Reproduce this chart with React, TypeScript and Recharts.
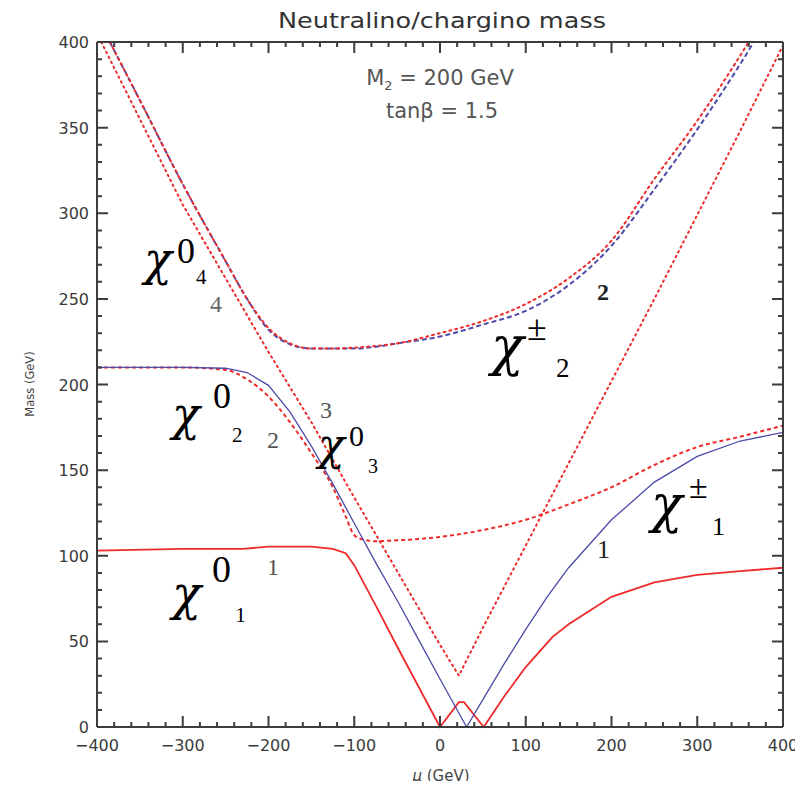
import React from "react";
import { LineChart, Line, XAxis, YAxis } from "recharts";

// mu (GeV) sample points and masses (GeV), one pair per curve
// (curves leaving the frame end where they meet the 400 GeV edge)
const neut1Mu = [-400, -300, -230, -200, -150, -125, -110, -100, -75, -50, -25, 0, 22, 28, 51, 75, 100, 131, 150, 175, 200, 250, 300, 350, 400];
const neut1Mass = [103, 104, 104, 105.3, 105.3, 104, 101.5, 94.5, 71, 47, 23.5, 0, 14.5, 14.5, 0, 18, 35, 52.5, 60, 68, 76, 84.5, 88.8, 91, 93];

const neut2Mu = [-400, -300, -250, -225, -200, -175, -150, -125, -110, -100, -90, -75, -50, 0, 50, 100, 150, 200, 250, 300, 350, 400];
const neut2Mass = [210, 210, 208.5, 203, 193, 178, 160, 140, 123, 112, 109.5, 108.5, 109, 111, 115, 121, 130, 140, 153, 163.5, 169.5, 176];

const neut3Mu = [-395, -350, -300, -250, -200, -150, -100, -50, 0, 22, 50, 100, 150, 200, 250, 300, 350, 400];
const neut3Mass = [400, 355, 305, 262, 219, 178, 134, 91, 48, 30, 58, 106, 154, 202, 250, 299, 348, 398];

const neut4Mu = [-385, -350, -300, -250, -225, -200, -175, -150, -125, -100, -75, -50, 0, 50, 100, 150, 200, 250, 300, 350, 360];
const neut4Mass = [400, 366, 317, 272, 250, 233, 224, 221, 221, 221.5, 222.5, 224, 230, 237, 247, 262, 284, 320, 354, 392, 400];

const char1Mu = [-400, -300, -250, -225, -200, -175, -150, -125, -100, -75, -50, -25, 0, 31, 50, 75, 100, 125, 150, 175, 200, 250, 300, 350, 400];
const char1Mass = [210, 210, 209.5, 207, 199.5, 184, 164, 142, 119, 96, 74, 51, 28, 0, 16, 37, 57, 76, 93, 107, 121, 143, 158, 167, 172];

const char2Mu = [-385, -350, -300, -250, -225, -200, -175, -150, -125, -100, -75, -50, 0, 50, 100, 150, 200, 250, 300, 350, 366];
const char2Mass = [400, 366, 317, 272, 250, 232, 223.5, 221, 221, 221, 222, 224, 228, 235, 243, 258, 281, 314, 349, 387, 400];

const xMajorTicks = [-400, -300, -200, -100, 0, 100, 200, 300, 400];
const yMajorTicks = [0, 50, 100, 150, 200, 250, 300, 350, 400];

const toPoints = (mu: number[], mass: number[]) => mu.map((v, i) => ({ mu: v, m: mass[i] }));

// minor ticks in between the majors (every 20 on x, every 10 on y)
const withMinor = (major: number[], parts: number) => {
  const out: number[] = [];
  for (let i = 0; i < major.length - 1; i++) {
    const step = (major[i + 1] - major[i]) / parts;
    for (let k = 0; k < parts; k++) out.push(major[i] + k * step);
  }
  out.push(major[major.length - 1]);
  return out;
};
const xTicks = withMinor(xMajorTicks, 5);
const yTicks = withMinor(yMajorTicks, 5);

const X_MIN = -400, X_MAX = 400, Y_MIN = 0, Y_MAX = 400;

// chart box and plot margins (page pixels; body margin is 8)
const CHART_W = 795, CHART_H = 773;
const M_TOP = 34, M_RIGHT = 20, Y_AXIS_W = 89, X_AXIS_H = 54;
const PLOT_L = 8 + Y_AXIS_W, PLOT_R = 8 + CHART_W - M_RIGHT;
const PLOT_T = 8 + M_TOP, PLOT_B = 8 + CHART_H - X_AXIS_H;
const px = (mu: number) => PLOT_L + ((mu - X_MIN) / (X_MAX - X_MIN)) * (PLOT_R - PLOT_L);
const py = (m: number) => PLOT_B - ((m - Y_MIN) / (Y_MAX - Y_MIN)) * (PLOT_B - PLOT_T);
const TICK_MAJOR = 11, TICK_MINOR = 5;

const RED = "#ee2a2a";
const BLUE = "#4b4ba8";
const AXIS = "#3c3c3c";
const SANS = "'DejaVu Sans', sans-serif";
const SERIF = "'DejaVu Serif', serif";
const NUM = "'Liberation Serif', serif";

const fmt = (v: number) => (v < 0 ? "\u2212" + Math.abs(v) : String(v));

const BottomLabel = (props: any) => {
  const { x, y, payload } = props;
  if (payload.value % 100 !== 0) return <g />;
  return (
    <text x={x} y={y + 24} textAnchor="middle" fontSize={16} fill="#3a3a3a" fontFamily={SANS}>
      {fmt(payload.value)}
    </text>
  );
};

const LeftLabel = (props: any) => {
  const { x, y, payload } = props;
  if (payload.value % 50 !== 0) return <g />;
  return (
    <text x={x - 8} y={y + 6} textAnchor="end" fontSize={16} fill="#3a3a3a" fontFamily={SANS}>
      {payload.value}
    </text>
  );
};

type Sym = { x: number; y: number; big: number; sup: string; supSize: number; supDx: number; supDy: number; sub: string; subSize: number; subDx: number; subDy: number };

const Particle = ({ x, y, big, sup, supSize, supDx, supDy, sub, subSize, subDx, subDy }: Sym) => (
  <g fill="#000">
    <text x={x} y={y} fontSize={big} fontStyle="italic" fontFamily={SERIF}>χ</text>
    <text x={x + supDx} y={y + supDy} fontSize={supSize} fontFamily={NUM}>{sup}</text>
    <text x={x + subDx} y={y + subDy} fontSize={subSize} fontFamily={NUM}>{sub}</text>
  </g>
);

// frame path with inward ticks on all four sides, one path per side
const framePaths = () => {
  const bottom: string[] = [`M${PLOT_L},${PLOT_B}H${PLOT_R}`];
  const top: string[] = [`M${PLOT_L},${PLOT_T}H${PLOT_R}`];
  const left: string[] = [`M${PLOT_L},${PLOT_T}V${PLOT_B}`];
  const right: string[] = [`M${PLOT_R},${PLOT_T}V${PLOT_B}`];
  xTicks.forEach((v) => {
    const len = v % 100 === 0 ? TICK_MAJOR : TICK_MINOR;
    const x = px(v);
    bottom.push(`M${x},${PLOT_B}V${PLOT_B - len}`);
    top.push(`M${x},${PLOT_T}V${PLOT_T + len}`);
  });
  yTicks.forEach((v) => {
    const len = v % 50 === 0 ? TICK_MAJOR : TICK_MINOR;
    const y = py(v);
    left.push(`M${PLOT_L},${y}H${PLOT_L + len}`);
    right.push(`M${PLOT_R},${y}H${PLOT_R - len}`);
  });
  return [bottom, top, left, right].map((p) => p.join(""));
};

export default function App() {
  return (
    <div style={{ position: "relative", width: CHART_W, height: CHART_H }}>
      <LineChart width={CHART_W} height={CHART_H} margin={{ top: M_TOP, right: M_RIGHT, bottom: 0, left: 0 }}>
        <XAxis
          type="number"
          dataKey="mu"
          domain={[X_MIN, X_MAX]}
          ticks={xTicks}
          interval={0}
          height={X_AXIS_H}
          tickSize={0}
          tickMargin={0}
          tickLine={false}
          tick={<BottomLabel />}
          axisLine={{ stroke: AXIS, strokeWidth: 2 }}
        />
        <YAxis
          type="number"
          domain={[Y_MIN, Y_MAX]}
          ticks={yTicks}
          interval={0}
          width={Y_AXIS_W}
          tickSize={0}
          tickMargin={0}
          tickLine={false}
          tick={<LeftLabel />}
          axisLine={{ stroke: AXIS, strokeWidth: 2 }}
        />
        <Line data={toPoints(neut1Mu, neut1Mass)} dataKey="m" type="linear" stroke={RED} strokeWidth={1.8} dot={false} isAnimationActive={false} />
        <Line data={toPoints(neut2Mu, neut2Mass)} dataKey="m" type="monotone" stroke={RED} strokeWidth={2} strokeDasharray="4 3" dot={false} isAnimationActive={false} />
        <Line data={toPoints(neut3Mu, neut3Mass)} dataKey="m" type="linear" stroke={RED} strokeWidth={2} strokeDasharray="1.5 4" strokeLinecap="round" dot={false} isAnimationActive={false} />
        <Line data={toPoints(char1Mu, char1Mass)} dataKey="m" type="linear" stroke={BLUE} strokeWidth={1.3} dot={false} isAnimationActive={false} />
        <Line data={toPoints(char2Mu, char2Mass)} dataKey="m" type="monotone" stroke={BLUE} strokeWidth={2} strokeDasharray="5 3" dot={false} isAnimationActive={false} />
        <Line data={toPoints(neut4Mu, neut4Mass)} dataKey="m" type="monotone" stroke={RED} strokeWidth={2} strokeDasharray="2 4" strokeLinecap="round" dot={false} isAnimationActive={false} />
      </LineChart>

      <svg
        width={803}
        height={789}
        viewBox="0 0 803 789"
        style={{ position: "absolute", left: -8, top: -8, pointerEvents: "none" }}
      >
        {framePaths().map((d, i) => (
          <path key={i} d={d} fill="none" stroke={AXIS} strokeWidth={2} />
        ))}
        <text x={442} y={28} textAnchor="middle" fontSize={22} fill="#333" fontFamily={SANS} textLength={328} lengthAdjust="spacingAndGlyphs">
          Neutralino/chargino mass
        </text>
        <text x={440} y={85} textAnchor="middle" fontSize={21} fill="#555" fontFamily={SANS}>
          M<tspan fontSize={13} dy={5}>2</tspan><tspan dy={-5}> = 200 GeV</tspan>
        </text>
        <text x={442} y={118} textAnchor="middle" fontSize={21} fill="#555" fontFamily={SANS}>
          tanβ = 1.5
        </text>
        <text x={441} y={781} textAnchor="middle" fontSize={15} fill="#444" fontFamily={SANS}>
          <tspan fontStyle="italic">μ</tspan> (GeV)
        </text>
        <text x={34} y={384} textAnchor="middle" fontSize={11.5} fill="#444" fontFamily={SANS} transform="rotate(-90 34 384)">
          Mass (GeV)
        </text>

        <Particle x={144} y={275} big={46} sup="0" supSize={36} supDx={33} supDy={-12} sub="4" subSize={21} subDx={52} subDy={9} />
        <Particle x={172} y={430} big={46} sup="0" supSize={36} supDx={41} supDy={-22} sub="2" subSize={21} subDx={60} subDy={12} />
        <Particle x={318} y={460} big={44} sup="0" supSize={30} supDx={31} supDy={-14} sub="3" subSize={20} subDx={50} subDy={13} />
        <Particle x={172} y={610} big={48} sup="0" supSize={38} supDx={40} supDy={-28} sub="1" subSize={22} subDx={63} subDy={12} />
        <Particle x={491} y={365} big={54} sup="±" supSize={36} supDx={36} supDy={-25} sub="2" subSize={27} subDx={65} subDy={12} />
        <Particle x={651} y={522} big={52} sup="±" supSize={34} supDx={38} supDy={-24} sub="1" subSize={26} subDx={61} subDy={13} />

        <g fontFamily={NUM}>
          <text x={210} y={312} fontSize={24} fill="#666">4</text>
          <text x={267} y={448} fontSize={24} fill="#555">2</text>
          <text x={320} y={418} fontSize={24} fill="#555">3</text>
          <text x={267} y={575} fontSize={24} fill="#555">1</text>
          <text x={597} y={300} fontSize={24} fill="#222" fontWeight="bold">2</text>
          <text x={597} y={558} fontSize={26} fill="#222">1</text>
        </g>
      </svg>
    </div>
  );
}
